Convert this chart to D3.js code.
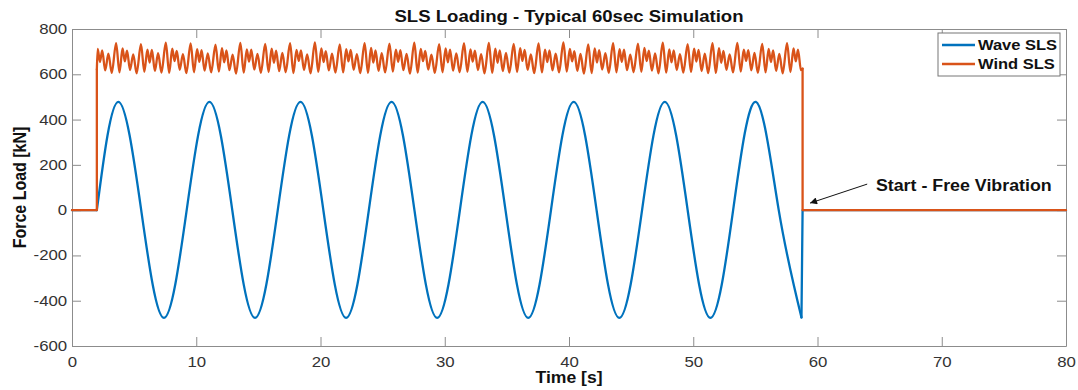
<!DOCTYPE html>
<html>
<head>
<meta charset="utf-8">
<script src="https://cdn.jsdelivr.net/npm/d3@7"></script>
<style>
  body { margin: 0; background: #fff; }
  text { font-family: "Liberation Sans", Arial, sans-serif; }
</style>
</head>
<body>
<svg id="chart" width="1078" height="390"></svg>
<script>
// ---- data ----
var xTicks = [0, 10, 20, 30, 40, 50, 60, 70, 80];
var yTicks = [-600, -400, -200, 0, 200, 400, 600, 800];

// wave SLS: zero crossings and extremes (time in s, load in kN)
var waveTime = [2.00, 3.73, 5.57, 7.40, 9.23, 11.06, 12.90, 14.73, 16.56, 18.39, 20.23,
  22.06, 23.89, 25.72, 27.56, 29.39, 31.22, 33.05, 34.89, 36.72, 38.55, 40.38, 42.22,
  44.05, 45.88, 47.71, 49.55, 51.38, 53.21, 55.04, 56.88, 58.71];
var waveLoad = [0, 478, 0, -476, 0, 478, 0, -476, 0, 478, 0, -476, 0, 478, 0, -476,
  0, 478, 0, -476, 0, 478, 0, -476, 0, 478, 0, -476, 0, 478, 0, -474];
var waveBefore = [[0, 0], [2.0, 0]];
var waveAfter = [[58.71, -474], [58.8, 0], [80, 0]];

// wind SLS: one row per gust cycle, starting at each tall peak
var windPeakTime = [1.55, 3.55, 5.55, 7.55, 9.55, 11.55, 13.55, 15.55, 17.55, 19.55,
  21.55, 23.55, 25.55, 27.55, 29.55, 31.55, 33.55, 35.55, 37.55, 39.55, 41.55, 43.55,
  45.55, 47.55, 49.55, 51.55, 53.55, 55.55, 57.55];
var windCycleOffset = [0, 0.27, 0.52, 0.70, 0.88, 1.12, 1.38, 1.65];
var windCycleLoad = [
  [735, 610, 712, 654, 706, 617, 691, 606],
  [738, 608, 714, 657, 704, 619, 688, 604],
  [733, 611, 709, 652, 708, 615, 693, 607],
  [740, 606, 713, 658, 703, 620, 689, 605],
  [736, 609, 711, 655, 707, 616, 692, 608],
  [731, 612, 715, 653, 705, 618, 687, 603],
  [739, 607, 710, 656, 709, 621, 690, 606],
  [734, 610, 713, 651, 704, 614, 694, 609],
  [737, 605, 708, 659, 706, 619, 688, 604],
  [741, 611, 714, 654, 702, 617, 691, 607],
  [732, 608, 711, 657, 708, 620, 689, 605],
  [738, 606, 716, 652, 705, 615, 693, 608],
  [735, 612, 709, 655, 707, 618, 690, 603],
  [740, 607, 712, 658, 703, 621, 687, 606],
  [733, 609, 714, 653, 709, 616, 692, 609],
  [737, 611, 710, 656, 704, 619, 689, 604],
  [739, 606, 713, 651, 706, 614, 694, 607],
  [734, 610, 715, 659, 708, 620, 688, 605],
  [736, 608, 709, 654, 705, 617, 691, 608],
  [741, 612, 712, 657, 702, 615, 690, 603],
  [732, 605, 714, 652, 707, 621, 693, 606],
  [738, 609, 711, 655, 709, 618, 687, 609],
  [735, 611, 716, 658, 704, 616, 692, 604],
  [740, 607, 710, 653, 706, 619, 689, 607],
  [733, 610, 713, 656, 708, 614, 691, 605],
  [737, 606, 715, 651, 703, 620, 688, 608],
  [739, 612, 709, 659, 707, 617, 694, 606],
  [734, 608, 712, 654, 705, 615, 690, 604],
  [738, 610, 714, 657, 709, 618, 692, 607]
];
var windOn = [[0, 0], [2.0, 0], [2.0, 622]];
var windOff = [[58.8, 625], [58.8, 0], [80, 0]];

var seriesNames = ['Wave SLS', 'Wind SLS'];
var seriesColors = ['#0072BD', '#D95319'];

var note = { text: 'Start - Free Vibration', at: [64.7, 110], from: [64.0, 115], to: [59.4, 31] };

// ---- layout ----
var margin = { left: 72, right: 12, top: 29, bottom: 44 };
var W = 1078, H = 390;
var axisColor = '#8c8c8c';

var svg = d3.select('#chart');
svg.append('rect').attr('width', W).attr('height', H).attr('fill', '#fff');

var x = d3.scaleLinear().domain([0, 80]).range([margin.left, W - margin.right]);
var y = d3.scaleLinear().domain([-600, 800]).range([H - margin.bottom, margin.top]);

function styleAxis(g) {
  g.selectAll('path').attr('stroke', axisColor);
  g.selectAll('line').attr('stroke', axisColor);
  g.selectAll('text').attr('fill', '#333').style('font-size', '14px');
}

var fmt = function(d) { return String(d); };

var gx = svg.append('g')
  .attr('transform', 'translate(0,' + y.range()[0] + ')')
  .call(d3.axisBottom(x).tickValues(xTicks).tickFormat(fmt).tickSize(-9).tickSizeOuter(0).tickPadding(11))
  .call(styleAxis);
gx.selectAll('text').attr('transform', 'scale(1.2,1)');

var gy = svg.append('g')
  .attr('transform', 'translate(' + x.range()[0] + ',0)')
  .call(d3.axisLeft(y).tickValues(yTicks).tickFormat(fmt).tickSize(-9).tickSizeOuter(0).tickPadding(4))
  .call(styleAxis);
gy.selectAll('text').attr('transform', 'scale(1.2,1)');

svg.append('g')
  .attr('transform', 'translate(0,' + y.range()[1] + ')')
  .call(d3.axisTop(x).tickValues(xTicks).tickFormat('').tickSize(-9).tickSizeOuter(0))
  .call(styleAxis);

svg.append('g')
  .attr('transform', 'translate(' + x.range()[1] + ',0)')
  .call(d3.axisRight(y).tickValues(yTicks).tickFormat('').tickSize(-9).tickSizeOuter(0))
  .call(styleAxis);

// ---- series ----
var wavePts = waveTime.map(function(t, i) { return [t, waveLoad[i]]; });

var windPts = [windOn[windOn.length - 1]];
windPeakTime.forEach(function(t0, c) {
  windCycleOffset.forEach(function(dt, j) {
    var t = t0 + dt;
    if (t > windOn[2][0] && t < windOff[0][0]) windPts.push([t, windCycleLoad[c][j]]);
  });
});
windPts.push(windOff[0]);

var lineLinear = d3.line().x(function(d) { return x(d[0]); }).y(function(d) { return y(d[1]); });
var lineNatural = d3.line().curve(d3.curveNatural).x(function(d) { return x(d[0]); }).y(function(d) { return y(d[1]); });
var lineMono = d3.line().curve(d3.curveMonotoneX).x(function(d) { return x(d[0]); }).y(function(d) { return y(d[1]); });

function drawPath(d, color) {
  svg.append('path')
    .attr('d', d)
    .attr('fill', 'none')
    .attr('stroke', color)
    .attr('stroke-width', 2.3)
    .attr('stroke-linejoin', 'round')
    .attr('stroke-linecap', 'round');
}

drawPath(lineLinear(waveBefore), seriesColors[0]);
drawPath(lineNatural(wavePts), seriesColors[0]);
drawPath(lineLinear(waveAfter), seriesColors[0]);

drawPath(lineLinear(windOn), seriesColors[1]);
drawPath(lineMono(windPts), seriesColors[1]);
drawPath(lineLinear(windOff), seriesColors[1]);

// ---- annotation ----
svg.append('defs').append('marker')
  .attr('id', 'arrow')
  .attr('viewBox', '0 0 10 10')
  .attr('refX', 10).attr('refY', 5)
  .attr('markerWidth', 9).attr('markerHeight', 7)
  .attr('markerUnits', 'userSpaceOnUse')
  .attr('orient', 'auto')
  .append('path').attr('d', 'M0,0L10,5L0,10z').attr('fill', '#111');

svg.append('line')
  .attr('x1', x(note.from[0])).attr('y1', y(note.from[1]))
  .attr('x2', x(note.to[0])).attr('y2', y(note.to[1]))
  .attr('stroke', '#111').attr('stroke-width', 1)
  .attr('marker-end', 'url(#arrow)');

svg.append('text')
  .attr('transform', 'translate(' + x(note.at[0]) + ',' + y(note.at[1]) + ') scale(1.08,1)')
  .attr('dy', '0.36em')
  .style('font-size', '16.5px').style('font-weight', 'bold').attr('fill', '#111')
  .text(note.text);

// ---- legend ----
var legend = svg.append('g').attr('transform', 'translate(938,33)');
legend.append('rect').attr('width', 122).attr('height', 43)
  .attr('fill', '#fff').attr('stroke', '#777').attr('stroke-width', 1);
seriesNames.forEach(function(name, i) {
  var ly = 12 + i * 19;
  legend.append('line').attr('x1', 4).attr('x2', 37).attr('y1', ly).attr('y2', ly)
    .attr('stroke', seriesColors[i]).attr('stroke-width', 2.3);
  legend.append('text')
    .attr('transform', 'translate(40,' + ly + ') scale(1.1,1)')
    .attr('dy', '0.36em')
    .style('font-size', '15px').style('font-weight', 'bold').attr('fill', '#111')
    .text(name);
});

// ---- titles ----
var cx = (x.range()[0] + x.range()[1]) / 2;
svg.append('text')
  .attr('transform', 'translate(' + cx + ',22) scale(1.16,1)')
  .attr('text-anchor', 'middle')
  .style('font-size', '16px').style('font-weight', 'bold').attr('fill', '#111')
  .text('SLS Loading - Typical 60sec Simulation');

svg.append('text')
  .attr('transform', 'translate(' + cx + ',383) scale(1.1,1)')
  .attr('text-anchor', 'middle')
  .style('font-size', '16px').style('font-weight', 'bold').attr('fill', '#111')
  .text('Time [s]');

svg.append('text')
  .attr('transform', 'translate(26,' + ((y.range()[0] + y.range()[1]) / 2) + ') scale(1.12,1) rotate(-90)')
  .attr('text-anchor', 'middle')
  .style('font-size', '16px').style('font-weight', 'bold').attr('fill', '#111')
  .text('Force Load [kN]');
</script>
</body>
</html>
